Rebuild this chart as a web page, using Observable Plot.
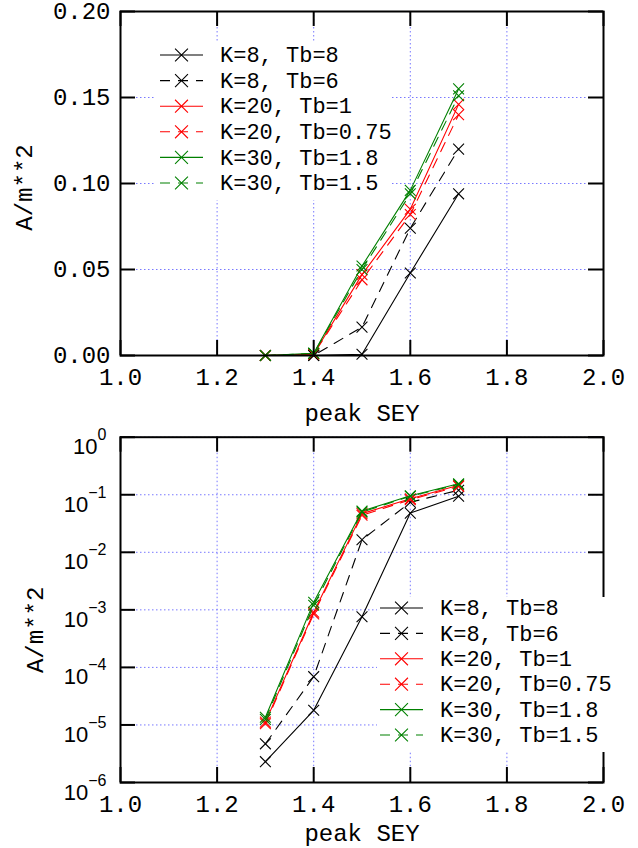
<!DOCTYPE html>
<html>
<head>
<meta charset="utf-8">
<script src="https://cdn.jsdelivr.net/npm/d3@7"></script>
<script src="https://cdn.jsdelivr.net/npm/@observablehq/plot@0.6"></script>
<style>
  html, body { margin: 0; padding: 0; background: #fff; }
  #chart { width: 638px; height: 848px; position: relative; background: #fff; }
  #chart svg { display: block; background: #fff; }
</style>
</head>
<body>
<div id="chart"></div>
<script>
// ---------- data ----------
const sey = [1.3, 1.4, 1.5, 1.6, 1.7];
const seriesLabels = ["K=8, Tb=8", "K=8, Tb=6", "K=20, Tb=1", "K=20, Tb=0.75", "K=30, Tb=1.8", "K=30, Tb=1.5"];
const seriesColors = ["#000000", "#000000", "#ff0000", "#ff0000", "#008000", "#008000"];
const seriesDashed = [false, true, false, true, false, true];
const k8tb8   = [2.3e-6, 1.8e-5, 7.6e-4, 0.048, 0.094];
const k8tb6   = [4.7e-6, 6.9e-5, 0.0165, 0.074, 0.120];
const k20tb1  = [1.12e-5, 9.1e-4, 0.047, 0.085, 0.146];
const k20tb075 = [1.05e-5, 8.5e-4, 0.044, 0.082, 0.140];
const k30tb18 = [1.36e-5, 1.35e-3, 0.052, 0.096, 0.155];
const k30tb15 = [1.25e-5, 1.2e-3, 0.050, 0.094, 0.151];
const seriesValues = [k8tb8, k8tb6, k20tb1, k20tb075, k30tb18, k30tb15];
const xTicks = [1.0, 1.2, 1.4, 1.6, 1.8, 2.0];
const yTicksLin = [0, 0.05, 0.10, 0.15, 0.20];
const yTicksLog = [1e-6, 1e-5, 1e-4, 1e-3, 1e-2, 1e-1, 1];
const xLabel = "peak SEY";
const yLabel = "A/m**2";

const rows = [];
seriesLabels.forEach((s, i) => sey.forEach((x, j) => rows.push({s, x, y: seriesValues[i][j]})));

const MONO = "'Liberation Mono', 'Courier New', monospace";
const SANS = "'Liberation Sans', Arial, sans-serif";
const W = 638, ML = 120, MR = 35;
const PW = W - ML - MR;

function panel(cfg) {
  const H = cfg.height - cfg.marginTop - cfg.marginBottom;
  const grid = {stroke: "#7878ff", strokeOpacity: 1, strokeWidth: 1, strokeDasharray: "1.5,2.5"};
  const marks = [
    Plot.gridX(xTicks, grid),
    Plot.gridY(cfg.yTicks, grid)
  ];
  seriesLabels.forEach((lab, i) => {
    const d = rows.filter(r => r.s === lab);
    marks.push(Plot.line(d, {x: "x", y: "y", stroke: seriesColors[i], strokeWidth: 1.1,
      strokeDasharray: seriesDashed[i] ? "10,8" : undefined}));
    marks.push(Plot.dot(d, {x: "x", y: "y", symbol: "times", r: 5, stroke: seriesColors[i], strokeWidth: 1.1}));
  });
  marks.push(
    Plot.frame({stroke: "black", strokeWidth: 2}),
    Plot.tickX(xTicks, {x: d => d, insetTop: H - 15, stroke: "black", strokeWidth: 2}),
    Plot.tickX(xTicks, {x: d => d, insetBottom: H - 15, stroke: "black", strokeWidth: 2}),
    Plot.tickY(cfg.yTicks, {y: d => d, insetRight: PW - 15, stroke: "black", strokeWidth: 2}),
    Plot.tickY(cfg.yTicks, {y: d => d, insetLeft: PW - 15, stroke: "black", strokeWidth: 2}),
    Plot.axisX(xTicks, {tickSize: 0, tickPadding: 12, tickFormat: d3.format(".1f"), fontSize: 24, label: null}),
    Plot.axisY(cfg.yTicks, {tickSize: 0, tickPadding: cfg.yPad, tickFormat: cfg.yFormat, fontSize: cfg.yFont, label: null}),
    Plot.text([xLabel], {text: d => d, frameAnchor: "bottom", lineAnchor: "middle", textAnchor: "middle",
      dy: cfg.xLabelDy, fontSize: 24}),
    Plot.text([yLabel], {text: d => d, frameAnchor: "left", rotate: -90, lineAnchor: "middle", textAnchor: "middle",
      dx: cfg.yLabelDx, dy: cfg.yLabelDy, fontSize: 24})
  );
  const svg = Plot.plot({
    width: W, height: cfg.height,
    marginTop: cfg.marginTop, marginBottom: cfg.marginBottom, marginLeft: ML, marginRight: MR,
    x: {type: "linear", domain: [1, 2]},
    y: {type: cfg.type, domain: cfg.domain},
    style: {fontFamily: MONO, color: "black", background: "white", overflow: "visible"},
    marks
  });
  return svg;
}

function addLegend(svg, box, rowsY, sx0, sx1, tx) {
  const g = d3.select(svg).append("g").attr("text-anchor", "start");
  g.append("rect").attr("x", box[0]).attr("y", box[1]).attr("width", box[2] - box[0]).attr("height", box[3] - box[1]).attr("fill", "white");
  seriesLabels.forEach((lab, i) => {
    const y = rowsY[0] + i * rowsY[1];
    g.append("line").attr("x1", sx0).attr("x2", sx1).attr("y1", y).attr("y2", y)
      .attr("stroke", seriesColors[i]).attr("stroke-width", 1.1)
      .attr("stroke-dasharray", seriesDashed[i] ? "10,8" : null);
    g.append("path").attr("d", d3.symbol(d3.symbolTimes, 110)())
      .attr("transform", `translate(${(sx0 + sx1) / 2},${y})`)
      .attr("fill", "none").attr("stroke", seriesColors[i]).attr("stroke-width", 1.1);
    g.append("text").attr("x", tx).attr("y", y).attr("dy", "0.33em").attr("text-anchor", "start")
      .attr("font-family", MONO).attr("font-size", 22).attr("fill", "black").text(lab);
  });
}

const chartEl = document.getElementById("chart");

// top: linear
const topSvg = panel({
  type: "linear", domain: [0, 0.2], yTicks: yTicksLin, height: 420, marginTop: 11, marginBottom: 65,
  yFormat: d3.format(".2f"), yPad: 10, yFont: 24, xLabelDy: 58, yLabelDx: -96, yLabelDy: 4
});
addLegend(topSvg, [155, 43, 392, 200], [55, 25.6], 160, 203, 220);
chartEl.appendChild(topSvg);

// bottom: log
const botSvg = panel({
  type: "log", domain: [1e-6, 1], yTicks: yTicksLog, height: 428, marginTop: 16.7, marginBottom: 66,
  yFormat: d => "10^" + Math.round(Math.log10(d)), yPad: 14, yFont: 22, xLabelDy: 51, yLabelDx: -85, yLabelDy: 20
});
d3.select(botSvg).selectAll('g[aria-label="y-axis tick label"] text').each(function () {
  const t = d3.select(this);
  const s = t.text();
  const e = s.split("^")[1].replace("-", "\u2212");
  t.text(null).attr("font-family", SANS).attr("dy", 10);
  t.append("tspan").attr("font-size", 22).text("10");
  t.append("tspan").attr("font-size", 16).attr("dy", -14).text(e);
});
addLegend(botSvg, [377, 597 - 420, 640, 752 - 420], [608 - 420, 25.4], 380, 423, 440);
chartEl.appendChild(botSvg);
</script>
</body>
</html>
